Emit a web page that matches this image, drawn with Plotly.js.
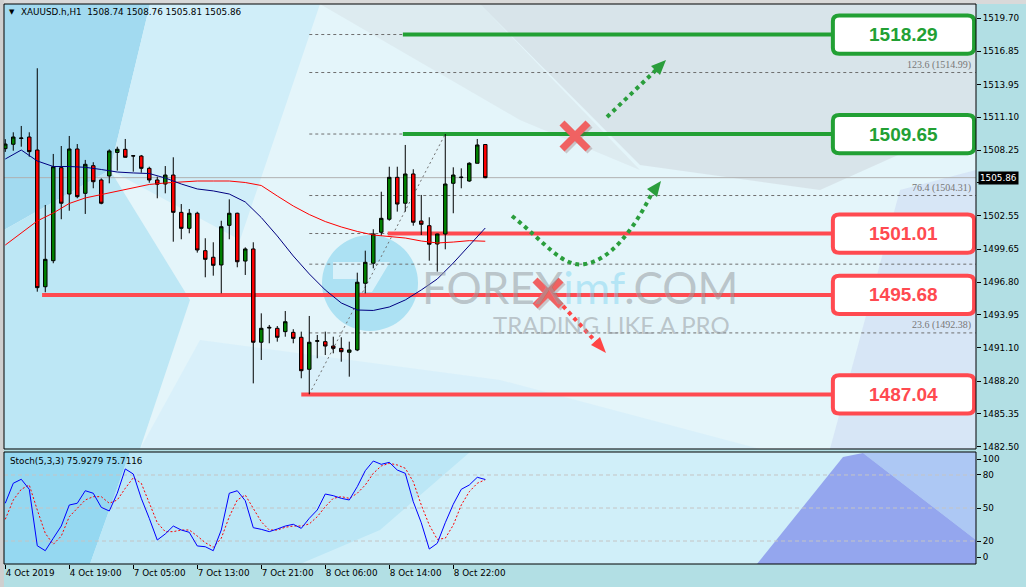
<!DOCTYPE html>
<html><head><meta charset="utf-8">
<script src="https://cdn.plot.ly/plotly-3.0.1.min.js"></script>
<style>html,body{margin:0;padding:0;background:#B2DFE4;}#chart{width:1026px;height:587px;}</style>
</head><body><div id="chart"></div><script>
// ---- data ----
const barIndex = Array.from({length:61},(_,i)=>i);
const openP  = [1508.38,1508.76,1509.26,1509.39,1508.26,1496.39,1498.65,1506.73,1504.44,1508.35,1504.50,1506.90,1505.66,1506.01,1508.05,1508.32,1507.74,1507.74,1506.67,1505.66,1505.31,1506.09,1502.85,1501.46,1502.77,1499.52,1498.95,1498.28,1501.72,1502.77,1498.62,1499.67,1491.57,1492.80,1492.78,1492.49,1492.43,1492.00,1489.22,1491.65,1491.62,1491.24,1491.04,1490.70,1490.90,1496.69,1498.43,1501.12,1502.25,1505.89,1503.64,1506.18,1502.10,1501.69,1500.10,1500.97,1505.37,1505.87,1505.57,1507.11,1508.74];
const highP  = [1509.20,1509.80,1510.35,1509.80,1515.36,1503.49,1507.92,1508.61,1509.48,1508.78,1507.40,1507.20,1505.80,1508.32,1508.55,1509.22,1507.80,1507.83,1506.81,1505.95,1506.87,1507.63,1503.57,1503.14,1502.90,1500.60,1500.25,1502.12,1503.98,1502.82,1499.81,1500.25,1494.08,1493.07,1492.98,1494.28,1492.70,1492.49,1493.85,1492.20,1492.49,1492.05,1492.00,1491.62,1497.61,1499.52,1501.38,1504.64,1506.81,1506.81,1508.70,1506.59,1504.36,1502.42,1501.00,1509.65,1506.76,1506.67,1507.20,1509.22,1508.76];
const lowP   = [1508.10,1508.20,1508.55,1507.68,1495.96,1495.91,1498.43,1502.25,1502.99,1504.07,1502.71,1504.94,1503.55,1505.37,1506.47,1507.60,1506.38,1506.29,1505.42,1504.07,1504.50,1500.30,1500.51,1501.03,1499.35,1497.21,1497.35,1495.82,1500.51,1498.08,1497.41,1488.00,1490.03,1491.48,1491.62,1492.05,1491.48,1488.44,1487.05,1490.18,1490.46,1490.61,1489.88,1488.58,1490.80,1495.82,1497.99,1500.82,1502.12,1502.91,1502.91,1501.69,1500.88,1498.65,1497.70,1499.64,1502.77,1504.94,1505.50,1507.11,1505.81];
const closeP = [1508.78,1509.39,1509.30,1508.12,1496.31,1498.77,1506.81,1503.64,1508.35,1504.21,1507.02,1505.51,1503.64,1508.18,1508.33,1507.63,1507.76,1506.67,1505.66,1505.29,1506.09,1502.85,1501.46,1502.77,1499.58,1498.77,1498.25,1501.60,1502.77,1498.56,1499.67,1491.57,1492.78,1492.86,1492.00,1493.35,1491.91,1489.10,1491.57,1491.70,1491.24,1491.04,1490.75,1490.90,1496.78,1498.51,1500.97,1502.33,1505.89,1503.57,1506.18,1501.99,1501.81,1500.08,1500.97,1505.31,1506.09,1505.90,1507.11,1508.70,1505.86];

const maBars = [0,2,4,6,8,10,12,14,16,18,20,22,24,26,28,30,32,34,36,38,40,42,44,46,48,50,52,54,56,58,60];
const maFast = [1507.48,1508.26,1507.31,1506.83,1506.83,1506.76,1506.57,1506.35,1506.27,1506.22,1505.83,1505.31,1504.88,1504.71,1504.44,1503.75,1502.40,1500.80,1499.06,1497.50,1496.11,1494.98,1494.37,1494.33,1494.63,1495.24,1496.11,1497.06,1498.45,1499.93,1501.49];
const maSlow = [1500.01,1501.06,1502.10,1502.79,1503.62,1504.10,1504.40,1504.70,1504.96,1505.27,1505.40,1505.48,1505.57,1505.57,1505.57,1505.44,1505.18,1504.27,1503.40,1502.66,1502.05,1501.58,1501.19,1500.88,1500.75,1500.62,1500.36,1500.19,1500.27,1500.39,1500.34];

const stochK = [54.3,72.5,76.1,67.0,15.7,11.2,22.5,33.6,52.7,54.3,65.7,63.4,50.6,47.3,63.4,85.5,80.9,58.8,40.6,20.9,26.4,33.6,30.0,27.9,15.5,14.8,11.2,30.0,63.4,65.7,56.6,32.1,30.6,28.5,30.9,33.6,35.2,31.5,40.6,48.2,62.7,61.2,58.8,57.3,69.4,83.9,92.7,89.7,91.5,84.5,81.5,55.7,36.6,12.7,17.9,36.6,53.4,67.0,70.9,77.9,75.93];
const stochD = [39.7,57.3,67.0,70.9,48.2,27.0,17.0,24.5,42.1,49.7,57.3,60.3,60.3,54.3,57.3,67.9,77.5,72.5,54.3,36.6,28.5,28.5,30.0,30.0,24.5,18.5,14.3,22.5,42.1,57.3,61.8,49.7,37.5,30.0,30.0,32.5,33.6,33.6,35.5,42.1,51.2,58.8,60.3,58.8,63.4,70.9,81.5,88.2,90.6,89.1,86.1,73.9,52.7,34.5,21.5,22.5,34.5,52.7,64.8,72.5,75.71];
const stochLevels = [80,50,20];
const stochTickVals = [94.3,80,50,20,5.2];
const stochTickText = ['100','80','50','20','0'];

const timeTickBars = [0,8,16,24,32,40,48,56];
const timeTickLabels = ['4 Oct 2019','4 Oct 19:00','7 Oct 05:00','7 Oct 13:00','7 Oct 21:00','8 Oct 06:00','8 Oct 14:00','8 Oct 22:00'];
const priceTicks = [1519.70,1516.85,1513.95,1511.10,1508.25,1505.40,1502.55,1499.65,1496.80,1493.95,1491.10,1488.20,1485.35,1482.50];
const lastPrice = 1505.86;

const resistLevels = [1518.29,1509.65];
const supportLevels = [1501.01,1495.68,1487.04];
const fibValues = [1518.29,1514.99,1509.65,1504.31,1501.01,1498.35,1495.68,1492.38,1487.05,1481.70];
const fibLabelValues = [1514.99,1504.31,1492.38];
const fibLabelTexts = ['123.6 (1514.99)','76.4 (1504.31)','23.6 (1492.38)'];
const fibAnchor = {x0:38, y0:1487.05, x1:55, y1:1509.65};
const headerText = 'XAUUSD.h,H1\u00A0\u00A01508.74 1508.76 1505.81 1505.86';
const stochText = 'Stoch(5,3,3) 75.9279 75.7116';

// ---- styling / layout helpers ----
const GREEN = '#22A034', RED = '#FF4A50';
const P = (X,Y) => [((X-4)/972).toFixed(5), ((564-Y)/560).toFixed(5)];
const pathFrom = (pts, close) => pts.map((p,i)=>(i?'L':'M')+P(p[0],p[1]).join(',')).join(' ') + (close?' Z':'');
const shapes = [];
function poly(pts, fill, layer){ shapes.push({type:'path', xref:'paper', yref:'paper', path:pathFrom(pts,true), fillcolor:fill, line:{width:0}, layer:layer||'below'}); }

// background
poly([[0,0],[1026,0],[1026,4],[0,4]], '#D9D9D9');
poly([[0,0],[4,0],[4,587],[0,587]], '#CFCFCF');
poly([[4,4],[976,4],[976,449],[4,449]], '#E4F5FA');
poly([[4,4],[150,4],[110,170],[4,230]], '#A2DAF0');
poly([[4,230],[110,170],[190,300],[140,449],[4,449]], '#BDE7F5');
poly([[150,4],[320,4],[240,240],[110,170]], '#D0EEF9');
poly([[320,4],[480,4],[640,170],[520,120]], 'rgba(205,212,220,0.3)');
poly([[480,4],[976,4],[976,120],[820,190],[640,165]], 'rgba(200,206,213,0.42)');
poly([[900,190],[976,170],[976,449],[830,449]], 'rgba(195,208,240,0.4)');
poly([[140,449],[200,340],[500,380],[760,449]], 'rgba(205,236,250,0.45)');
poly([[4,452],[976,452],[976,564],[4,564]], '#D0EFF9');
poly([[4,452],[130,452],[90,564],[4,564]], '#95D8F1');
poly([[130,452],[470,452],[380,530],[300,564],[90,564]], '#BCE7F6');
poly([[863,453],[976,452],[976,540]], '#ADC8F4');
poly([[757,564],[843,457],[863,453],[976,540],[976,564]], '#94A6EE');
// watermark logo
shapes.push({type:'circle', xref:'paper', yref:'paper', x0:P(322,0)[0], x1:P(418,0)[0], y0:P(0,331)[1], y1:P(0,235)[1], fillcolor:'rgba(115,205,236,0.5)', line:{width:0}, layer:'below'});
poly([[333,262],[390,262],[372,292],[358,292],[358,279],[333,279]], 'rgba(255,255,255,0.55)');

// current price line
shapes.push({type:'line', xref:'x', yref:'y', x0:-0.16, x1:121.34, y0:lastPrice, y1:lastPrice, line:{color:'#B0B0B0', width:1}, layer:'below'});
// fib dashed lines
fibValues.forEach(v=>shapes.push({type:'line', xref:'x', yref:'y', x0:fibAnchor.x0, x1:121.34, y0:v, y1:v, line:{color:'#6E6E6E', width:1, dash:'3px,3px'}, layer:'below'}));
shapes.push({type:'line', xref:'x', yref:'y', x0:fibAnchor.x0, y0:fibAnchor.y0, x1:fibAnchor.x1, y1:fibAnchor.y1, line:{color:'#707070', width:1, dash:'2px,3px'}, layer:'below'});
// level lines
const resistStart = [49.7,49.7], supportStart = [47.8,4.6,37.0];
resistLevels.forEach((v,i)=>shapes.push({type:'line', xref:'x', yref:'y', x0:resistStart[i], x1:103.3, y0:v, y1:v, line:{color:GREEN, width:4}, layer:'below'}));
supportLevels.forEach((v,i)=>shapes.push({type:'line', xref:'x', yref:'y', x0:supportStart[i], x1:103.3, y0:v, y1:v, line:{color:RED, width:4}, layer:'below'}));
// stoch grid
stochLevels.forEach(v=>shapes.push({type:'line', xref:'x', yref:'y2', x0:-0.16, x1:121.34, y0:v, y1:v, line:{color:'#C4C4C4', width:1, dash:'4px,3px'}, layer:'below'}));

// label boxes
function rbox(lv, color){
  const x0=103.45, x1=121.1, y0=lv-1.66, y1=lv+1.66, rx=0.8, ry=0.5;
  const path = `M${x0+rx},${y1} L${x1-rx},${y1} Q${x1},${y1} ${x1},${y1-ry} L${x1},${y0+ry} Q${x1},${y0} ${x1-rx},${y0} L${x0+rx},${y0} Q${x0},${y0} ${x0},${y0+ry} L${x0},${y1-ry} Q${x0},${y1} ${x0+rx},${y1} Z`;
  shapes.push({type:'path', xref:'x', yref:'y', path, fillcolor:'#FFFFFF', line:{color, width:4}, layer:'above'});
}
resistLevels.forEach(v=>rbox(v, GREEN));
supportLevels.forEach(v=>rbox(v, RED));

// X marks
function xmark(cx, cy){
  [[-13,-13,13,13],[-13,13,13,-13]].forEach(d=>{
    shapes.push({type:'path', xref:'paper', yref:'paper', path:pathFrom([[cx+d[0]+2,cy+d[1]+2],[cx+d[2]+2,cy+d[3]+2]],false), line:{color:'rgba(120,60,60,0.25)', width:7}, layer:'above'});
  });
  [[-13,-13,13,13],[-13,13,13,-13]].forEach(d=>{
    shapes.push({type:'path', xref:'paper', yref:'paper', path:pathFrom([[cx+d[0],cy+d[1]],[cx+d[2],cy+d[3]]],false), line:{color:'#F06262', width:7}, layer:'above'});
  });
}
xmark(575,136); xmark(548,293);

// dotted arrows
function dotted(pathStr, color){ shapes.push({type:'path', xref:'paper', yref:'paper', path:pathStr, line:{color, width:4, dash:'dot'}, layer:'above'}); }
function head(pts, color){ poly(pts, color, 'above'); }
dotted(pathFrom([[607,117],[656,70]],false), '#2A9E3C');
head([[666,60],[660,75],[651,66]], '#2A9E3C');
(function(){
  const a=P(512,216), c1=P(545,242), c2=P(562,268), b=P(585,264), c3=P(610,260), c4=P(632,232), e=P(651,195);
  dotted(`M${a} C${c1} ${c2} ${b} C${c3} ${c4} ${e}`, '#2A9E3C');
})();
head([[661,181],[657,197],[647,189]], '#2A9E3C');
dotted(pathFrom([[563,306],[596,342]],false), '#FF4545');
head([[606,353],[600,337],[591,345]], '#FF4545');

// frames
shapes.push({type:'rect', xref:'paper', yref:'paper', x0:0, x1:1, y0:P(0,449)[1], y1:1, line:{color:'#000', width:1}, fillcolor:'rgba(0,0,0,0)', layer:'above'});
shapes.push({type:'rect', xref:'paper', yref:'paper', x0:0, x1:1, y0:0, y1:0.2, line:{color:'#000', width:1}, fillcolor:'rgba(0,0,0,0)', layer:'above'});

// annotations
const FONT = '"DejaVu Sans", "Liberation Sans", Arial, sans-serif';
const small = {family:FONT, size:8.8, color:'#000'};
const ann = [];
resistLevels.forEach(v=>ann.push({xref:'x', yref:'y', x:112.3, y:v, text:'<b>'+v.toFixed(2)+'</b>', showarrow:false, font:{family:'"Liberation Sans", Arial, sans-serif', size:19, color:GREEN}}));
supportLevels.forEach(v=>ann.push({xref:'x', yref:'y', x:112.3, y:v, text:'<b>'+v.toFixed(2)+'</b>', showarrow:false, font:{family:'"Liberation Sans", Arial, sans-serif', size:19, color:RED}}));
fibLabelValues.forEach((v,i)=>ann.push({xref:'paper', yref:'y', x:P(973,0)[0], y:v, xanchor:'right', yanchor:'bottom', yshift:0, text:fibLabelTexts[i], showarrow:false, font:{family:'"Liberation Serif", "DejaVu Serif", serif', size:10, color:'#777'}}));
ann.push({xref:'paper', yref:'paper', x:P(7,0)[0], y:P(0,12)[1], xanchor:'left', yanchor:'middle', text:'\u25BC', showarrow:false, font:{family:'"DejaVu Sans", sans-serif', size:7, color:'#000'}});
ann.push({xref:'paper', yref:'paper', x:P(19,0)[0], y:P(0,12)[1], xanchor:'left', yanchor:'middle', text:headerText, showarrow:false, font:small});
ann.push({xref:'paper', yref:'paper', x:P(8,0)[0], y:P(0,461)[1], xanchor:'left', yanchor:'middle', text:stochText, showarrow:false, font:small});
ann.push({xref:'paper', yref:'paper', x:P(580,0)[0], y:P(0,287)[1], xanchor:'center', yanchor:'middle', text:'FOREX<span style="color:rgba(120,210,240,0.8)">imf</span>.COM', showarrow:false, font:{family:'Lato, "Open Sans", sans-serif', size:44, color:'rgba(150,155,160,0.55)'}});
ann.push({xref:'paper', yref:'paper', x:P(611,0)[0], y:P(0,324)[1], xanchor:'center', yanchor:'middle', text:'TRADING LIKE A PRO', showarrow:false, font:{family:'Lato, "Open Sans", sans-serif', size:24, color:'rgba(150,155,160,0.55)'}});
ann.push({xref:'paper', yref:'y', x:P(978,0)[0], y:lastPrice, xanchor:'left', yanchor:'middle', text:lastPrice.toFixed(2), showarrow:false, bgcolor:'#000', borderpad:1, font:{family:FONT, size:8.8, color:'#fff'}});

const traces = [
  {type:'candlestick', x:barIndex, open:openP, high:highP, low:lowP, close:closeP, xaxis:'x', yaxis:'y', whiskerwidth:0,
   increasing:{line:{color:'#000', width:1}, fillcolor:'#008000'}, decreasing:{line:{color:'#000', width:1}, fillcolor:'#FF0000'}, hoverinfo:'skip', showlegend:false},
  {type:'scatter', mode:'lines', x:maBars, y:maSlow, xaxis:'x', yaxis:'y', line:{color:'#FF0000', width:1}, hoverinfo:'skip', showlegend:false},
  {type:'scatter', mode:'lines', x:maBars, y:maFast, xaxis:'x', yaxis:'y', line:{color:'#000080', width:1}, hoverinfo:'skip', showlegend:false},
  {type:'scatter', mode:'lines', x:barIndex, y:stochD, xaxis:'x', yaxis:'y2', line:{color:'#FF0000', width:1, dash:'2px,2px'}, hoverinfo:'skip', showlegend:false},
  {type:'scatter', mode:'lines', x:barIndex, y:stochK, xaxis:'x', yaxis:'y2', line:{color:'#0000FF', width:1}, hoverinfo:'skip', showlegend:false}
];

// the 1505.40 tick sits under the last-price label, as in the reference
const priceTickText = priceTicks.map(v => Math.abs(v-1505.40) < 0.001 ? '' : v.toFixed(2));

const layout = {
  width:1026, height:587,
  margin:{l:4, r:50, t:4, b:23, pad:0},
  paper_bgcolor:'#B2DFE4', plot_bgcolor:'rgba(0,0,0,0)',
  showlegend:false, boxgap:0.38,
  font:small,
  xaxis:{domain:[0,1], range:[-0.16,121.34], anchor:'y2', rangeslider:{visible:false}, showgrid:false, zeroline:false, showline:false,
         tickmode:'array', tickvals:timeTickBars, ticktext:timeTickLabels, ticks:'outside', ticklen:4, tickcolor:'#000', ticklabelposition:'outside right', tickfont:small},
  yaxis:{domain:[(564-449)/560,1], range:[1482.30,1520.94], side:'right', anchor:'x', showgrid:false, zeroline:false, showline:false,
         tickmode:'array', tickvals:priceTicks, ticktext:priceTickText, ticks:'outside', ticklen:4, tickcolor:'#000', tickfont:small},
  yaxis2:{domain:[0,0.2], range:[-0.9,100.9], side:'right', anchor:'x', showgrid:false, zeroline:false, showline:false,
          tickmode:'array', tickvals:stochTickVals, ticktext:stochTickText, ticks:'outside', ticklen:4, tickcolor:'#000', tickfont:small},
  shapes, annotations:ann
};
Plotly.newPlot('chart', traces, layout, {staticPlot:true, displayModeBar:false});
</script></body></html>
